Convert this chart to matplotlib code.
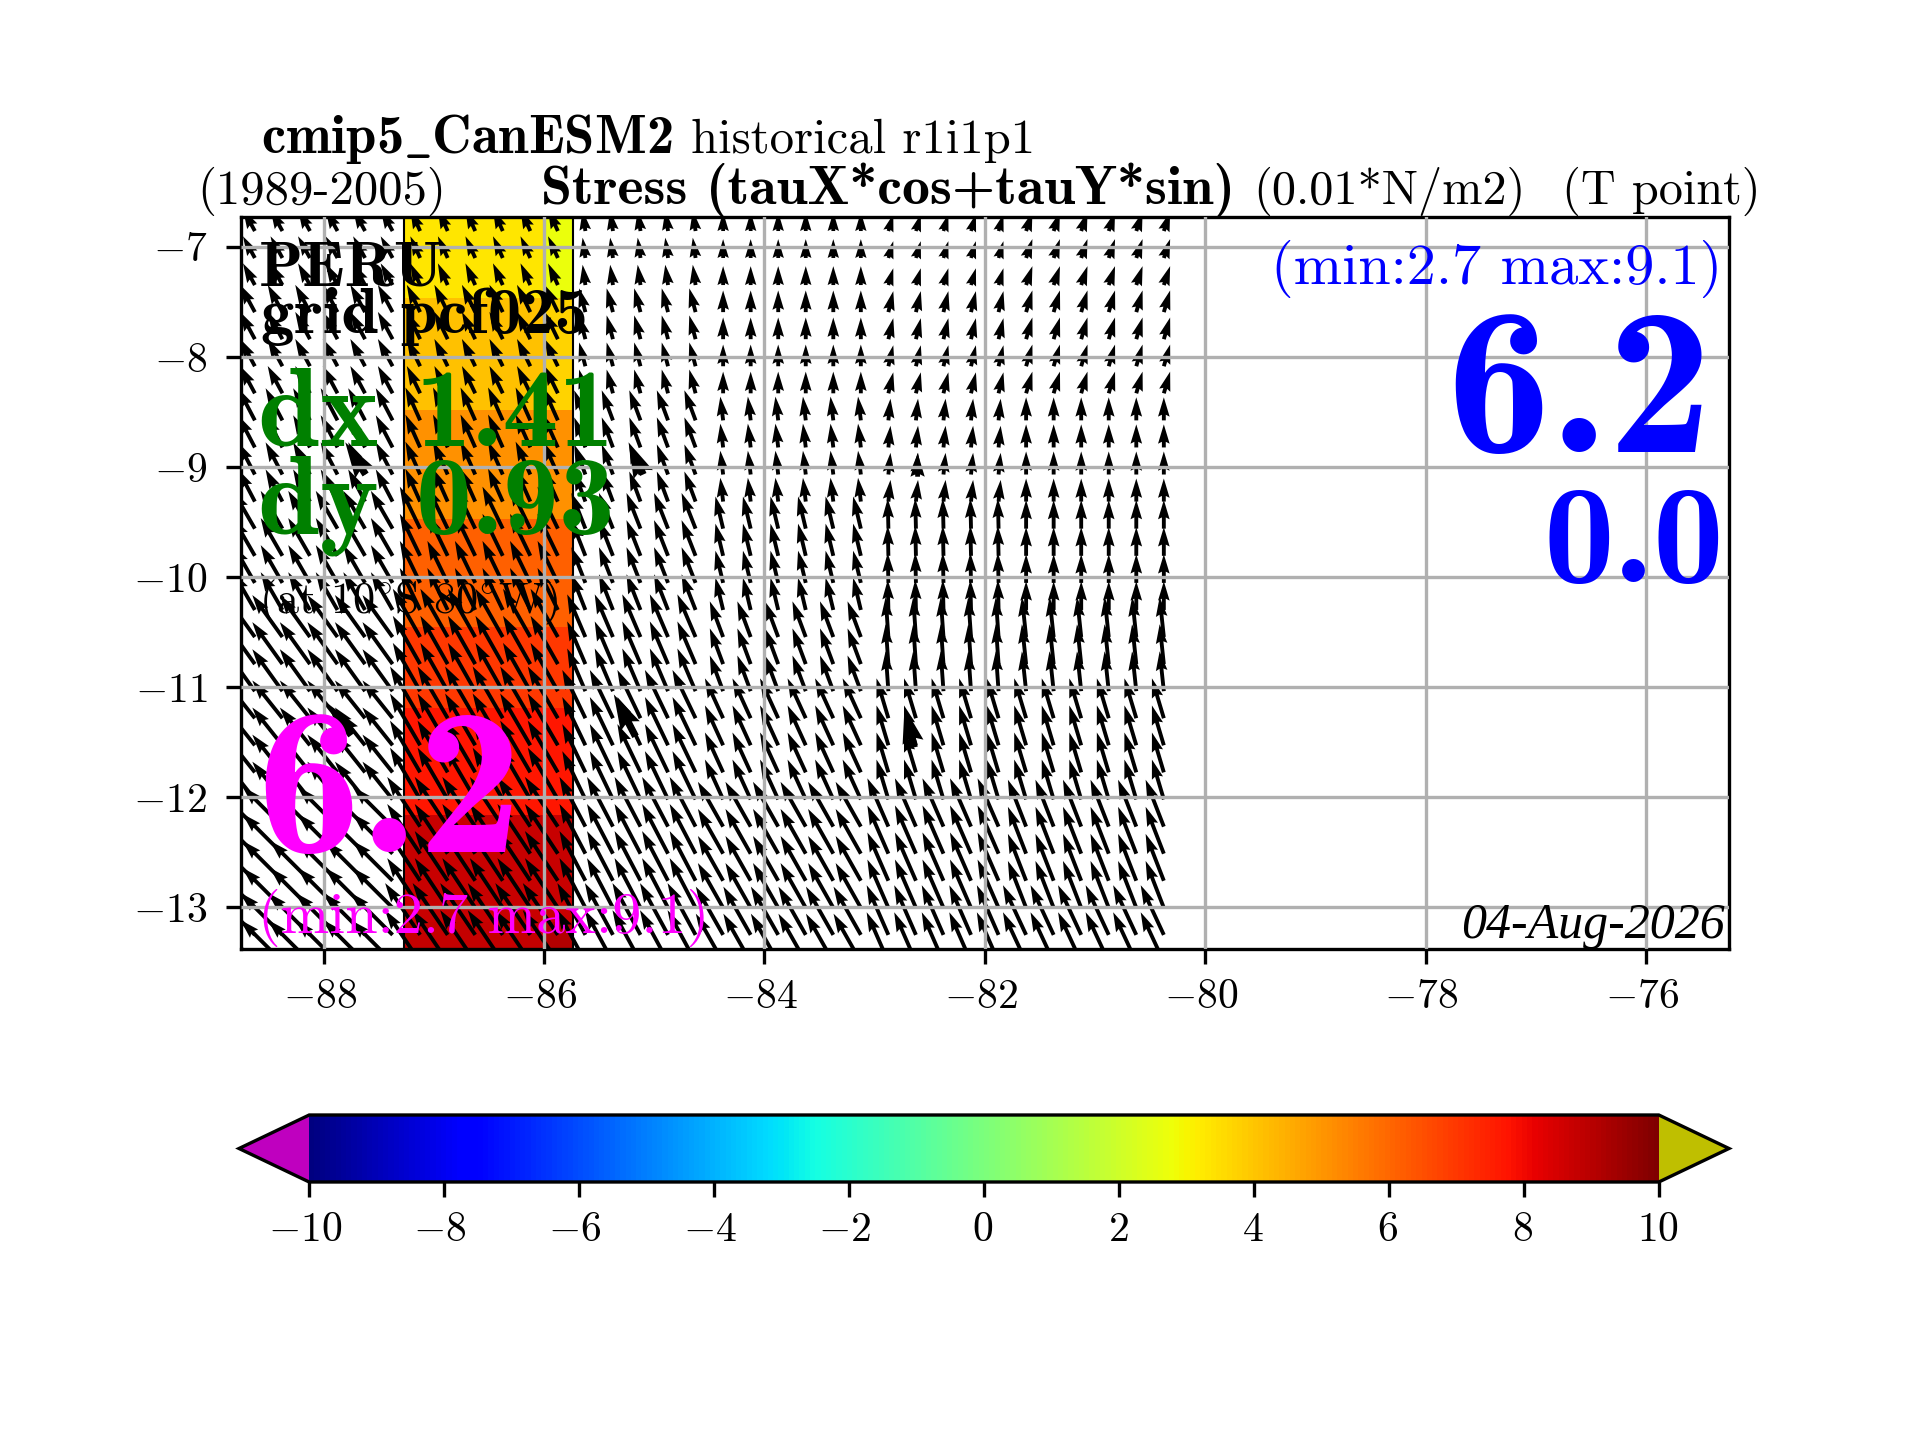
import numpy as np
import matplotlib
matplotlib.use('Agg')
import matplotlib.pyplot as plt
from matplotlib.transforms import ScaledTranslation

plt.rcParams['font.family'] = ['cmr10', 'DejaVu Sans']
plt.rcParams['mathtext.fontset'] = 'cm'
plt.rcParams['axes.formatter.use_mathtext'] = True
plt.rcParams['font.size'] = 10

# Malla de flechas
lon = np.arange(-88.625, -80.25, 0.25)
lat = [-13.5, -13.254, -13.008, -12.762, -12.516, -12.27, -12.023, -11.777,
       -11.531, -11.285, -11.039, -10.793, -10.547, -10.301, -10.055, -9.809,
       -9.562, -9.316, -9.07, -8.824, -8.578, -8.332, -8.086, -7.84,
       -7.594, -7.348, -7.102, -6.857]
cols_per_block = [6, 6, 5, 6, 5, 6]
rows_per_block = [2, 4, 4, 3, 4, 4, 4, 3]

# tauX, tauY por bloque (filas de sur a norte)
tau_u = [[-6.0, -5.0, -4.0, -3.9, -3.1, -3.3],
         [-5.7, -4.7, -3.7, -3.6, -3.0, -2.6],
         [-4.3, -4.3, -3.3, -2.6, -1.7, -1.7],
         [-4.3, -3.9, -2.6, -1.9, -0.4, -0.6],
         [-3.1, -2.9, -2.0, -1.1, -0.1, 0.0],
         [-2.4, -2.1, -1.6, -0.4, 0.3, 0.0],
         [-2.1, -1.9, -0.9, 0.0, 0.7, 0.9],
         [-1.7, -1.4, -0.4, 0.0, 0.7, 0.9]]
tau_v = [[6.0, 7.4, 7.4, 6.9, 7.1, 7.1],
         [5.7, 7.1, 7.1, 6.4, 6.9, 6.7],
         [5.4, 7.4, 6.9, 5.7, 5.7, 5.7],
         [6.0, 6.9, 6.1, 5.1, 5.7, 5.7],
         [5.4, 6.0, 5.1, 4.6, 4.3, 4.1],
         [4.6, 4.7, 4.3, 3.4, 3.1, 3.3],
         [3.9, 3.9, 3.4, 3.1, 3.0, 3.1],
         [3.1, 3.1, 2.9, 2.7, 2.4, 2.7]]

# Flechas gruesas
big_lon = [-87.62, -85.10, -82.61, -87.75, -85.17, -82.64]
big_lat = [-9.07, -9.07, -9.09, -11.44, -11.45, -11.55]
big_u = [-2.9, -2.1, 0.0, -3.3, -3.1, -1.4]
big_v = [4.6, 4.6, 3.4, 4.5, 6.0, 5.7]

# Franja coloreada
strip_lon = [-87.27, -86.0, -85.74]
strip_lat = [-13.382, -13.14, -12.168, -11.196, -10.46, -9.47, -8.48, -7.47, -6.727]
strip_vals = [[8.8, 9.1],
              [8.7, 8.7],
              [7.7, 7.7],
              [7.0, 7.0],
              [6.1, 6.1],
              [5.1, 5.1],
              [4.1, 3.7],
              [3.3, 2.7]]

xticks = [-88, -86, -84, -82, -80, -78, -76]
yticks = [-7, -8, -9, -10, -11, -12, -13]
cbar_ticks = [-10, -8, -6, -4, -2, 0, 2, 4, 6, 8, 10]

fig = plt.figure(figsize=(6.4, 4.8))
ax = fig.add_axes([0.1254, 0.341, 0.7752, 0.5085])

cmap = plt.get_cmap('jet').copy()
cmap.set_under('#bf00bf')
cmap.set_over('#bfbf00')
mesh = ax.pcolormesh(strip_lon, strip_lat, strip_vals, cmap=cmap, vmin=-10, vmax=10)
ax.vlines([strip_lon[0], strip_lon[-1]], strip_lat[0], strip_lat[-1], color='k', lw=0.5)

uu = np.repeat(np.repeat(np.array(tau_u), rows_per_block, axis=0), cols_per_block, axis=1)
vv = np.repeat(np.repeat(np.array(tau_v), rows_per_block, axis=0), cols_per_block, axis=1)
xx, yy = np.meshgrid(lon, lat)
ax.quiver(xx, yy, uu, vv, angles='xy', scale_units='xy', scale=15.73, width=0.0026)
ax.quiver(big_lon, big_lat, big_u, big_v, angles='xy', scale_units='xy', scale=15.73, width=0.0048)

ax.set_xlim(-88.753, -75.244)
ax.set_ylim(-13.382, -6.727)
ax.set_xticks(xticks)
ax.set_yticks(yticks)
ax.set_axisbelow(False)
ax.grid(True)
ax.tick_params(axis='y', pad=4.5)

# Barra de color
cax = fig.add_axes([239 / 1920, 258 / 1440, 1490 / 1920, 67 / 1440])
fig.colorbar(mesh, cax=cax, orientation='horizontal', extend='both',
             extendfrac=0.052, ticks=cbar_ticks)

# Etiquetas de x un poco a la izquierda
shift = ScaledTranslation(-4 / 300, 0, fig.dpi_scale_trans)
small_shift = ScaledTranslation(-1 / 300, 0, fig.dpi_scale_trans)
for t in ax.get_xticklabels():
    t.set_transform(t.get_transform() + shift)
for value, t in zip(cbar_ticks, cax.get_xticklabels()):
    t.set_transform(t.get_transform() + (shift if value < 0 else small_shift))


def label(x, y, s, size, color='k', ha='left', family=None, style='normal'):
    # posicion en pixeles de la imagen final
    tx = fig.text(x / 1920, 1 - y / 1440, s, fontsize=size, color=color, ha=ha,
                  va='baseline', style=style)
    if family:
        tx.set_family(family)
    return tx


label(261, 153, r'cmip5$\_$CanESM2', 13.1, family='cmb10')
label(1035, 153, 'historical r1i1p1', 11.7, ha='right')
label(197, 204, '(1989-2005)', 11.7)
label(541, 204, 'Stress (tauX*cos+tauY*sin)', 13.4, family='cmb10')
label(1253, 204, '(0.01*N/m2)', 11.6)
label(1562, 204, '(T point)', 11.6)

label(259, 285, 'PERU', 15.5, family='cmb10')
label(261, 333, 'grid pcf025', 16, family='cmb10')
label(258, 445, 'dx 1.41', 26.8, color='green', family='cmb10')
label(258, 533, 'dy 0.93', 26.8, color='green', family='cmb10')
label(259, 613, r'(at 10$^{\circ}$S 80$^{\circ}$W)', 10.6)
label(256, 852, '6.2', 50, color='magenta', family='cmb10')
label(258, 933, '(min:2.7 max:9.1)', 14, color='magenta')

label(1722, 284, '(min:2.7 max:9.1)', 14, color='blue', ha='right')
label(1712, 452, '6.2', 50, color='blue', ha='right', family='cmb10')
label(1724, 582, '0.0', 34, color='blue', ha='right', family='cmb10')
label(1725, 938, '04-Aug-2026', 12, ha='right', family='Liberation Serif', style='italic')

fig.savefig('out.png', dpi=300)
